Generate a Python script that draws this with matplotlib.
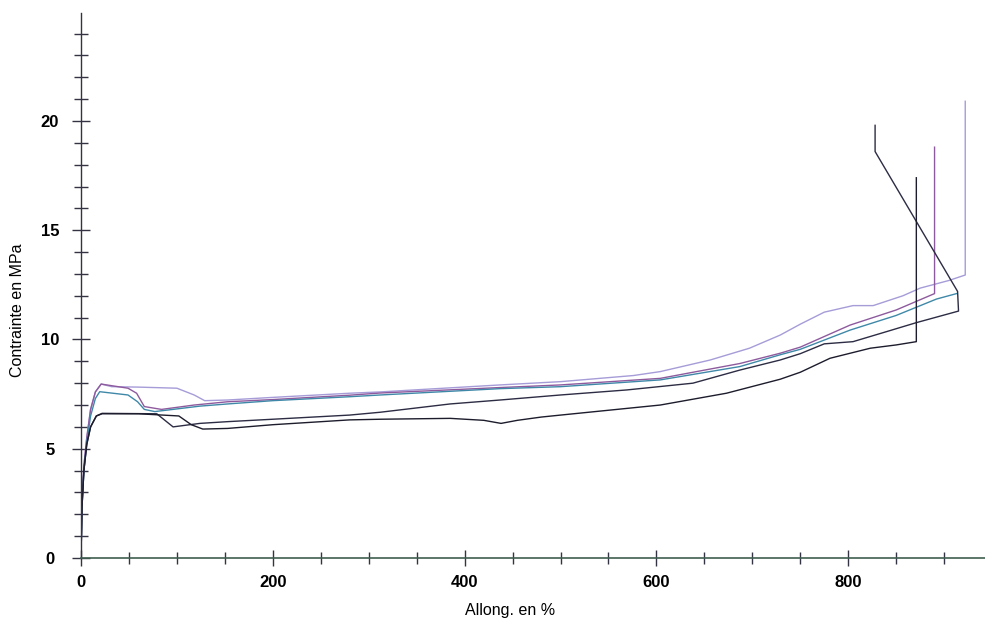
import numpy as np
import matplotlib
matplotlib.use("Agg")
import matplotlib.pyplot as plt
from matplotlib.ticker import MultipleLocator, FixedLocator

a_x = [0, 1, 3, 6, 10, 15, 21, 32, 60, 100, 118, 129, 153, 200, 280, 312, 437, 500, 576, 604, 656,
       697, 729, 750, 775, 805, 826, 857, 875, 905, 922, 922]
a_y = [0, 2.5, 4.2, 5.5, 6.8, 7.6, 7.96, 7.84, 7.82, 7.77, 7.46, 7.2, 7.23, 7.35, 7.54, 7.6, 7.92, 8.07,
       8.35, 8.53, 9.06, 9.6, 10.2, 10.7, 11.25, 11.55, 11.55, 12.0, 12.35, 12.7, 12.95, 20.9]

b_x = [0, 1, 3, 6, 10, 15, 21, 49, 58, 66, 84, 118, 153, 200, 280, 312, 437, 500, 604, 687, 729,
       750, 802, 850, 890, 890]
b_y = [0, 2.5, 4.2, 5.5, 6.8, 7.6, 7.96, 7.77, 7.54, 6.93, 6.8, 7.0, 7.15, 7.25, 7.45, 7.55, 7.8, 7.92,
       8.22, 8.9, 9.37, 9.65, 10.66, 11.35, 12.1, 18.8]

e_x = [0, 1, 3, 6, 10, 15, 19.5, 49, 59, 66, 77, 124, 153, 200, 280, 312, 437, 500, 604, 687, 729,
       750, 802, 850, 892, 913]
e_y = [0, 2.3, 4.0, 5.3, 6.5, 7.3, 7.61, 7.46, 7.15, 6.8, 6.7, 6.95, 7.05, 7.2, 7.38, 7.46, 7.75, 7.84,
       8.15, 8.76, 9.3, 9.55, 10.43, 11.1, 11.85, 12.1]

c_x = [0, 1, 3, 6, 10, 16, 22, 79, 96, 124, 153, 200, 280, 312, 385, 437, 500, 569, 638, 687, 729,
       750, 775, 805, 840, 871, 915, 914, 828, 828]
c_y = [0, 2.3, 4.0, 5.2, 6.0, 6.5, 6.62, 6.6, 6.0, 6.16, 6.24, 6.35, 6.54, 6.67, 7.05, 7.23, 7.46, 7.69,
       8.0, 8.6, 9.06, 9.35, 9.8, 9.9, 10.36, 10.77, 11.3, 12.2, 18.6, 19.8]

d_x = [0, 1, 3, 6, 10, 16, 22, 60, 102, 115, 127, 153, 200, 280, 312, 385, 420, 438, 455, 480, 500,
       604, 673, 729, 750, 781, 823, 850, 871, 871]
d_y = [0, 2.3, 4.0, 5.2, 6.0, 6.5, 6.6, 6.6, 6.5, 6.1, 5.9, 5.93, 6.1, 6.32, 6.35, 6.39, 6.3, 6.16, 6.3,
       6.45, 6.54, 7.0, 7.54, 8.18, 8.5, 9.14, 9.6, 9.75, 9.9, 17.4]

curves = [
    (a_x, a_y, "#a69cd8"),
    (b_x, b_y, "#8e5a9e"),
    (e_x, e_y, "#3f88a8"),
    (c_x, c_y, "#2c2c44"),
    (d_x, d_y, "#1c1c2c"),
]

x_labels = [0, 200, 400, 600, 800]
y_labels = [0, 5, 10, 15, 20]


def main():
    plt.rcParams["font.family"] = ["Liberation Sans", "DejaVu Sans"]
    fig = plt.figure(figsize=(9.85, 6.23), dpi=100)
    ax = fig.add_axes([81 / 985, 65 / 623, 904 / 985, 545 / 623])

    for xs, ys, col in curves:
        ax.plot(xs, ys, color=col, lw=1.0)

    ax.set_xlim(0, 942.6)
    ax.set_ylim(0, 24.94)

    for s in ["top", "right"]:
        ax.spines[s].set_visible(False)
    ax.spines["left"].set_color("#333344")
    ax.spines["bottom"].set_color("#3f5f50")
    ax.spines["left"].set_linewidth(1.0)
    ax.spines["bottom"].set_linewidth(1.2)

    ax.xaxis.set_major_locator(FixedLocator(x_labels))
    ax.xaxis.set_minor_locator(MultipleLocator(50))
    ax.yaxis.set_major_locator(FixedLocator(y_labels))
    ax.yaxis.set_minor_locator(FixedLocator([v for v in range(1, 25) if v % 5]))

    ax.tick_params(axis="x", which="major", direction="inout", length=12, width=1.0,
                   color="#333344", labelsize=12, pad=6)
    ax.tick_params(axis="x", which="minor", direction="inout", length=9, width=1.0, color="#333344")
    ax.tick_params(axis="y", which="major", direction="inout", length=13, width=1.0,
                   color="#333344", labelsize=12, pad=16)
    ax.tick_params(axis="y", which="minor", direction="inout", length=10, width=1.0, color="#333344")
    for t in ax.get_xticklabels() + ax.get_yticklabels():
        t.set_fontweight("bold")
    plt.setp(ax.get_yticklabels(), ha="center")

    fig.text(510 / 985, 1 - 610 / 623, "Allong. en %", ha="center", va="center", fontsize=11.5)
    fig.text(18 / 985, 1 - 310 / 623, "Contrainte en MPa", ha="center", va="center",
             rotation=90, fontsize=11.5)

    fig.savefig("out.png", dpi=100)
    plt.close(fig)


if __name__ == "__main__":
    main()
